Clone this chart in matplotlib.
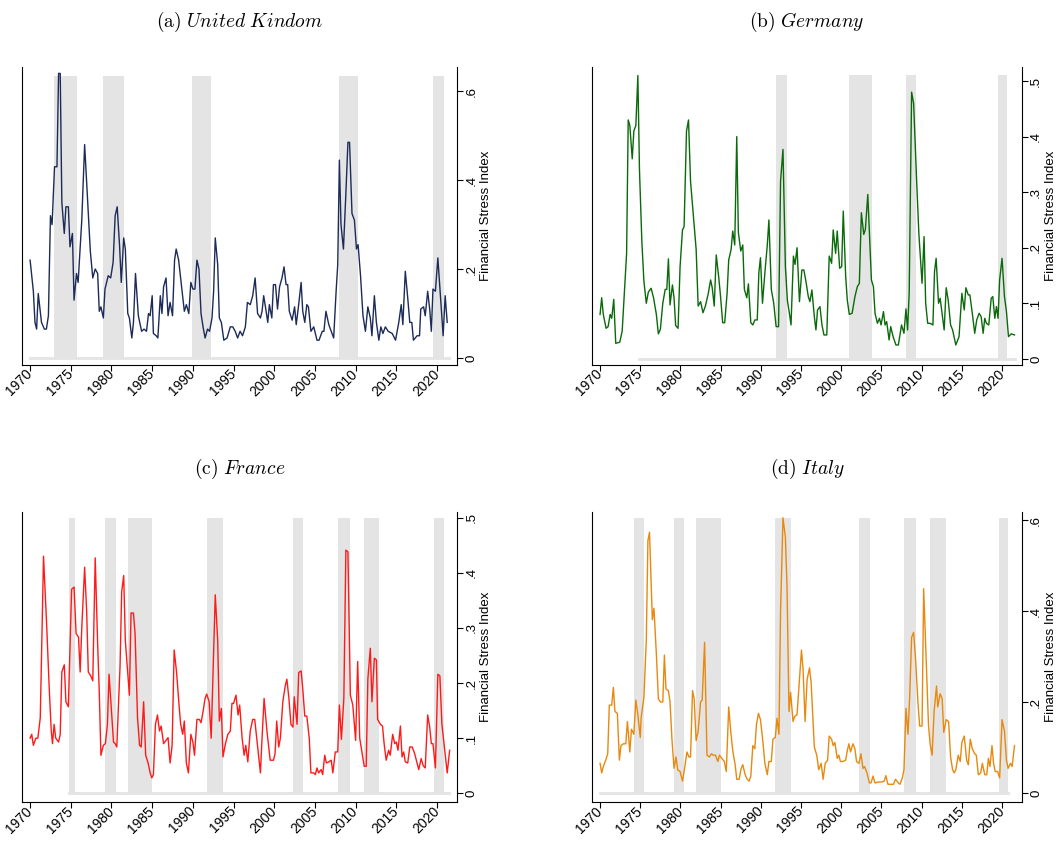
import matplotlib
matplotlib.use("Agg")
import matplotlib.pyplot as plt
from matplotlib.ticker import FuncFormatter

plt.rcParams['mathtext.fontset'] = 'cm'
plt.rcParams['font.family'] = ['Liberation Sans', 'DejaVu Sans']

# (year, financial stress index)
uk_pts = [
    (1970.0, .22), (1970.4, .15), (1970.6, .08), (1970.8, .065), (1971.0, .145), (1971.4, .08),
    (1971.75, .065), (1972.0, .065), (1972.25, .095), (1972.5, .32), (1972.7, .30), (1973.0, .43),
    (1973.3, .43), (1973.5, .64), (1973.7, .64), (1973.9, .35), (1974.2, .28), (1974.4, .34),
    (1974.7, .34), (1974.9, .25), (1975.2, .28), (1975.4, .13), (1975.7, .19), (1975.9, .17),
    (1976.35, .31), (1976.7, .48), (1977.05, .36), (1977.4, .24), (1977.7, .18), (1978.0, .20),
    (1978.3, .19), (1978.5, .105), (1978.7, .115), (1979.0, .09), (1979.2, .155), (1979.6, .185),
    (1979.9, .18), (1980.2, .215), (1980.45, .32), (1980.7, .34), (1981.0, .25), (1981.2, .17),
    (1981.5, .27), (1981.7, .245), (1982.0, .10), (1982.2, .09), (1982.5, .045), (1982.7, .08),
    (1982.95, .19), (1983.3, .095), (1983.7, .06), (1984.0, .065), (1984.3, .06), (1984.55, .10),
    (1984.75, .095), (1985.0, .14), (1985.15, .055), (1985.5, .05), (1985.7, .045), (1986.0, .14),
    (1986.2, .10), (1986.4, .16), (1986.7, .18), (1986.95, .095), (1987.2, .125), (1987.5, .095),
    (1987.75, .22), (1987.95, .245), (1988.25, .22), (1988.65, .155), (1988.95, .105), (1989.2, .12),
    (1989.5, .10), (1989.75, .17), (1990.0, .155), (1990.25, .155), (1990.5, .22), (1990.75, .20),
    (1991.0, .10), (1991.25, .07), (1991.5, .045), (1991.8, .065), (1992.05, .06), (1992.35, .09),
    (1992.55, .15), (1992.75, .27), (1993.05, .21), (1993.25, .09), (1993.5, .08), (1993.8, .04),
    (1994.2, .045), (1994.6, .07), (1994.9, .07), (1995.2, .06), (1995.5, .045), (1995.8, .06),
    (1996.1, .05), (1996.45, .07), (1996.7, .125), (1997.05, .12), (1997.35, .14), (1997.65, .18),
    (1997.95, .10), (1998.3, .09), (1998.5, .105), (1998.7, .14), (1999.0, .105), (1999.2, .08),
    (1999.4, .12), (1999.7, .09), (1999.9, .165), (2000.15, .165), (2000.4, .11), (2000.65, .16),
    (2000.95, .18), (2001.2, .205), (2001.45, .165), (2001.65, .165), (2001.85, .105), (2002.2, .085),
    (2002.5, .115), (2002.7, .075), (2003.0, .12), (2003.3, .17), (2003.5, .105), (2003.75, .08),
    (2004.0, .12), (2004.2, .115), (2004.5, .06), (2004.85, .07), (2005.25, .04), (2005.5, .04),
    (2005.9, .06), (2006.1, .06), (2006.35, .105), (2006.7, .075), (2007.0, .06), (2007.3, .045),
    (2007.6, .15), (2007.8, .21), (2008.0, .445), (2008.2, .30), (2008.5, .245), (2008.8, .37),
    (2009.05, .485), (2009.25, .485), (2009.55, .325), (2009.85, .31), (2010.1, .245), (2010.3, .255),
    (2010.6, .185), (2010.9, .095), (2011.2, .06), (2011.5, .115), (2011.8, .09), (2012.0, .05),
    (2012.3, .14), (2012.55, .08), (2012.85, .04), (2013.1, .07), (2013.35, .055), (2013.65, .07),
    (2014.0, .06), (2014.5, .055), (2014.9, .04), (2015.3, .08), (2015.6, .12), (2015.8, .075),
    (2016.1, .195), (2016.4, .135), (2016.65, .08), (2016.9, .08), (2017.1, .04), (2017.55, .05),
    (2017.85, .05), (2018.0, .11), (2018.35, .115), (2018.55, .095), (2018.85, .15), (2019.1, .11),
    (2019.3, .06), (2019.5, .155), (2019.8, .15), (2020.1, .225), (2020.3, .17), (2020.75, .05),
    (2021.0, .14), (2021.25, .08),
]

de_pts = [
    (1970.0, .08), (1970.2, .11), (1970.4, .08), (1970.75, .055), (1971.0, .058), (1971.25, .08),
    (1971.45, .073), (1971.7, .107), (1971.95, .028), (1972.45, .03), (1972.75, .05), (1973.05, .125),
    (1973.3, .19), (1973.5, .43), (1973.7, .42), (1974.0, .36), (1974.2, .41), (1974.45, .42),
    (1974.7, .51), (1974.9, .34), (1975.2, .21), (1975.45, .14), (1975.75, .10), (1976.0, .12),
    (1976.35, .127), (1976.65, .11), (1977.0, .08), (1977.25, .045), (1977.5, .053), (1977.8, .10),
    (1978.1, .125), (1978.3, .125), (1978.5, .18), (1978.7, .097), (1979.0, .133), (1979.2, .11),
    (1979.4, .06), (1979.7, .055), (1979.95, .166), (1980.25, .232), (1980.45, .238), (1980.75, .41),
    (1981.0, .43), (1981.25, .32), (1981.7, .24), (1981.95, .197), (1982.2, .095), (1982.5, .103),
    (1982.8, .083), (1983.1, .095), (1983.45, .117), (1983.75, .142), (1983.95, .128), (1984.2, .095),
    (1984.45, .187), (1984.75, .148), (1984.95, .118), (1985.25, .065), (1985.5, .065), (1985.8, .118),
    (1986.0, .178), (1986.3, .197), (1986.5, .23), (1986.75, .205), (1987.0, .40), (1987.2, .228),
    (1987.5, .194), (1987.75, .205), (1987.95, .125), (1988.25, .11), (1988.45, .135), (1988.75, .065),
    (1989.0, .061), (1989.25, .07), (1989.55, .07), (1989.75, .155), (1989.95, .182), (1990.2, .10),
    (1990.5, .155), (1990.8, .205), (1991.0, .25), (1991.3, .125), (1991.6, .10), (1991.9, .058),
    (1992.2, .058), (1992.45, .32), (1992.75, .377), (1993.05, .166), (1993.3, .105), (1993.55, .082),
    (1993.75, .061), (1994.05, .185), (1994.25, .17), (1994.5, .20), (1994.8, .103), (1995.1, .16),
    (1995.35, .16), (1995.6, .14), (1995.9, .112), (1996.1, .103), (1996.35, .124), (1996.65, .076),
    (1996.85, .052), (1997.05, .088), (1997.35, .094), (1997.6, .061), (1997.85, .043), (1998.2, .043),
    (1998.5, .185), (1998.8, .172), (1999.0, .232), (1999.3, .19), (1999.5, .23), (1999.8, .163),
    (2000.05, .166), (2000.25, .266), (2000.55, .148), (2000.75, .106), (2001.0, .08), (2001.35, .082),
    (2001.7, .112), (2002.0, .13), (2002.25, .136), (2002.5, .263), (2002.8, .224), (2003.0, .233),
    (2003.3, .296), (2003.5, .226), (2003.75, .142), (2004.0, .13), (2004.2, .082), (2004.5, .064),
    (2004.75, .073), (2004.95, .061), (2005.25, .085), (2005.45, .061), (2005.65, .067), (2005.95, .034),
    (2006.15, .058), (2006.45, .04), (2006.8, .025), (2007.1, .025), (2007.5, .061), (2007.8, .046),
    (2008.05, .09), (2008.25, .052), (2008.45, .118), (2008.75, .48), (2009.0, .46), (2009.35, .33),
    (2009.65, .226), (2010.05, .136), (2010.3, .22), (2010.5, .10), (2010.75, .064), (2011.05, .064),
    (2011.4, .061), (2011.6, .157), (2011.8, .181), (2012.1, .10), (2012.3, .109), (2012.55, .08),
    (2012.8, .052), (2013.05, .128), (2013.3, .106), (2013.6, .061), (2013.85, .052), (2014.25, .025),
    (2014.65, .04), (2015.0, .118), (2015.3, .088), (2015.5, .128), (2015.8, .115), (2016.0, .115),
    (2016.3, .082), (2016.6, .046), (2016.85, .07), (2017.15, .082), (2017.4, .076), (2017.65, .046),
    (2017.85, .073), (2018.05, .064), (2018.35, .061), (2018.65, .109), (2018.85, .112), (2019.1, .073),
    (2019.3, .094), (2019.5, .073), (2019.7, .142), (2020.0, .181), (2020.3, .112), (2020.55, .085),
    (2020.8, .04), (2021.15, .045), (2021.55, .043),
]

fr_pts = [
    (1970.0, .10), (1970.2, .107), (1970.4, .087), (1970.7, .10), (1970.95, .10), (1971.25, .137),
    (1971.65, .43), (1972.05, .30), (1972.35, .19), (1972.6, .113), (1972.75, .09), (1972.95, .125),
    (1973.15, .10), (1973.5, .093), (1973.7, .107), (1973.9, .22), (1974.2, .233), (1974.4, .166),
    (1974.7, .157), (1974.9, .26), (1975.1, .37), (1975.4, .374), (1975.65, .29), (1975.95, .283),
    (1976.15, .22), (1976.35, .30), (1976.7, .41), (1976.95, .33), (1977.15, .22), (1977.45, .213),
    (1977.7, .204), (1978.0, .427), (1978.3, .27), (1978.5, .183), (1978.7, .069), (1979.0, .087),
    (1979.25, .09), (1979.5, .125), (1979.7, .216), (1979.95, .16), (1980.25, .093), (1980.45, .09),
    (1980.65, .084), (1981.05, .23), (1981.25, .365), (1981.5, .395), (1981.7, .277), (1982.0, .219),
    (1982.2, .178), (1982.4, .327), (1982.7, .327), (1982.9, .289), (1983.2, .137), (1983.45, .087),
    (1983.65, .084), (1983.95, .166), (1984.2, .069), (1984.5, .055), (1984.75, .037), (1984.95, .028),
    (1985.15, .034), (1985.4, .125), (1985.65, .142), (1985.9, .113), (1986.1, .122), (1986.4, .09),
    (1986.7, .096), (1986.95, .101), (1987.2, .055), (1987.45, .087), (1987.7, .26), (1988.0, .219),
    (1988.3, .16), (1988.5, .125), (1988.75, .107), (1988.95, .131), (1989.2, .055), (1989.45, .037),
    (1989.75, .107), (1990.0, .093), (1990.2, .069), (1990.5, .134), (1990.8, .134), (1991.0, .128),
    (1991.25, .148), (1991.5, .172), (1991.7, .18), (1992.0, .166), (1992.25, .10), (1992.75, .36),
    (1993.05, .277), (1993.25, .131), (1993.5, .154), (1993.7, .066), (1994.0, .09), (1994.3, .107),
    (1994.6, .113), (1994.8, .163), (1995.0, .163), (1995.3, .178), (1995.55, .142), (1995.75, .16),
    (1996.05, .10), (1996.3, .069), (1996.5, .087), (1996.75, .057), (1997.05, .113), (1997.35, .134),
    (1997.6, .134), (1997.85, .10), (1998.3, .037), (1998.5, .10), (1998.75, .172), (1999.1, .113),
    (1999.5, .06), (1999.9, .06), (2000.1, .072), (2000.3, .131), (2000.55, .084), (2000.75, .10),
    (2001.05, .166), (2001.35, .195), (2001.55, .207), (2001.8, .172), (2002.05, .125), (2002.3, .12),
    (2002.45, .175), (2002.8, .125), (2003.0, .219), (2003.3, .222), (2003.5, .19), (2003.75, .14),
    (2004.0, .14), (2004.3, .10), (2004.5, .037), (2004.85, .037), (2005.05, .034), (2005.25, .046),
    (2005.45, .037), (2005.75, .043), (2005.95, .034), (2006.2, .069), (2006.4, .055), (2006.7, .057),
    (2007.0, .06), (2007.2, .037), (2007.5, .075), (2007.8, .075), (2008.0, .16), (2008.25, .098),
    (2008.55, .172), (2008.8, .441), (2009.05, .438), (2009.35, .178), (2009.65, .16), (2010.0, .096),
    (2010.25, .239), (2010.5, .10), (2010.8, .072), (2011.05, .049), (2011.3, .049), (2011.5, .207),
    (2011.8, .263), (2012.0, .166), (2012.3, .245), (2012.55, .242), (2012.7, .134), (2013.05, .125),
    (2013.3, .122), (2013.5, .09), (2013.75, .06), (2014.05, .078), (2014.25, .069), (2014.55, .107),
    (2014.8, .09), (2015.0, .093), (2015.2, .078), (2015.5, .122), (2015.7, .066), (2015.9, .075),
    (2016.1, .057), (2016.4, .055), (2016.65, .084), (2016.95, .084), (2017.25, .072), (2017.55, .055),
    (2017.75, .043), (2018.05, .063), (2018.3, .05), (2018.55, .046), (2018.85, .142), (2019.1, .12),
    (2019.3, .09), (2019.5, .09), (2019.8, .046), (2020.1, .216), (2020.35, .213), (2020.6, .125),
    (2020.95, .078), (2021.25, .037), (2021.55, .078),
]

it_pts = [
    (1970.0, .066), (1970.2, .045), (1970.4, .059), (1970.7, .073), (1970.95, .087), (1971.15, .194),
    (1971.45, .194), (1971.65, .233), (1971.85, .18), (1972.15, .176), (1972.4, .073), (1972.6, .105),
    (1972.9, .109), (1973.2, .109), (1973.4, .158), (1973.7, .091), (1973.9, .141), (1974.2, .13),
    (1974.45, .205), (1974.7, .173), (1975.0, .123), (1975.1, .165), (1975.45, .211), (1975.75, .336),
    (1975.95, .556), (1976.15, .574), (1976.5, .382), (1976.7, .407), (1977.0, .307), (1977.25, .208),
    (1977.5, .201), (1977.8, .201), (1978.0, .304), (1978.2, .229), (1978.5, .226), (1978.7, .201),
    (1978.95, .116), (1979.2, .055), (1979.45, .08), (1979.65, .052), (1979.95, .048), (1980.25, .027),
    (1980.55, .059), (1980.8, .091), (1981.05, .08), (1981.25, .08), (1981.5, .226), (1981.7, .208),
    (1981.95, .116), (1982.2, .137), (1982.5, .201), (1982.7, .205), (1983.0, .332), (1983.3, .084),
    (1983.6, .08), (1983.85, .087), (1984.05, .084), (1984.35, .084), (1984.65, .07), (1984.85, .084),
    (1985.15, .077), (1985.45, .07), (1985.7, .048), (1986.0, .19), (1986.25, .137), (1986.5, .094),
    (1986.8, .063), (1987.0, .031), (1987.3, .031), (1987.55, .055), (1987.75, .063), (1988.05, .041),
    (1988.3, .031), (1988.55, .027), (1988.75, .038), (1989.0, .105), (1989.25, .098), (1989.45, .151),
    (1989.7, .176), (1989.95, .162), (1990.2, .123), (1990.5, .066), (1990.8, .041), (1991.0, .07),
    (1991.3, .07), (1991.5, .119), (1991.8, .123), (1992.0, .165), (1992.25, .13), (1992.45, .40),
    (1992.75, .606), (1993.05, .563), (1993.25, .457), (1993.5, .18), (1993.7, .222), (1994.0, .158),
    (1994.2, .169), (1994.5, .173), (1994.75, .236), (1995.05, .315), (1995.25, .272), (1995.5, .158),
    (1995.75, .25), (1996.05, .276), (1996.25, .244), (1996.45, .173), (1996.65, .102), (1996.95, .084),
    (1997.2, .052), (1997.5, .066), (1997.75, .031), (1998.0, .066), (1998.3, .073), (1998.5, .126),
    (1998.8, .119), (1999.0, .105), (1999.2, .112), (1999.5, .077), (1999.7, .084), (1999.9, .07),
    (2000.2, .07), (2000.55, .073), (2000.75, .094), (2000.95, .109), (2001.15, .091), (2001.45, .109),
    (2001.7, .098), (2001.9, .07), (2002.2, .066), (2002.45, .087), (2002.7, .055), (2002.9, .059),
    (2003.2, .045), (2003.5, .023), (2003.7, .023), (2003.95, .038), (2004.2, .023), (2004.65, .025),
    (2005.05, .025), (2005.35, .027), (2005.55, .039), (2005.8, .02), (2006.05, .02), (2006.5, .02),
    (2006.75, .031), (2007.1, .023), (2007.3, .02), (2007.6, .034), (2007.8, .052), (2008.05, .187),
    (2008.3, .13), (2008.5, .208), (2008.75, .343), (2009.0, .354), (2009.25, .293), (2009.55, .197),
    (2009.75, .148), (2010.05, .148), (2010.25, .45), (2010.6, .279), (2010.85, .151), (2011.05, .109),
    (2011.3, .084), (2011.55, .18), (2011.85, .236), (2012.0, .19), (2012.3, .219), (2012.55, .208),
    (2012.75, .134), (2013.05, .162), (2013.35, .158), (2013.6, .08), (2013.85, .052), (2014.05, .045),
    (2014.25, .052), (2014.55, .084), (2014.8, .07), (2015.0, .112), (2015.3, .126), (2015.6, .073),
    (2015.8, .063), (2016.05, .119), (2016.3, .098), (2016.6, .087), (2016.8, .084), (2017.05, .041),
    (2017.35, .045), (2017.55, .066), (2017.85, .041), (2018.1, .041), (2018.3, .077), (2018.5, .059),
    (2018.75, .105), (2018.95, .066), (2019.15, .048), (2019.45, .048), (2019.7, .034), (2020.0, .162),
    (2020.3, .137), (2020.55, .073), (2020.75, .055), (2021.05, .066), (2021.25, .059), (2021.55, .105),
]

# recession periods (start, end)
uk_rec = [(1972.95, 1975.75), (1978.9, 1981.5), (1989.95, 1992.25), (2008.0, 2010.3), (2019.5, 2020.8)]
de_rec = [(1991.93, 1993.28), (2001.0, 2003.77), (2008.0, 2009.34), (2019.5, 2020.6)]
fr_rec = [(1974.84, 1975.5), (1979.2, 1980.5), (1981.97, 1985.0), (1991.7, 1993.7), (2002.25, 2003.5),
          (2007.8, 2009.3), (2011.0, 2012.9), (2019.6, 2020.8)]
it_rec = [(1974.2, 1975.5), (1979.2, 1980.5), (1981.9, 1985.0), (1991.7, 1993.8), (2002.25, 2003.57),
          (2007.8, 2009.35), (2011.0, 2013.0), (2019.6, 2020.8)]

panels = [
    ("(a)", "United\\ Kindom", uk_pts, uk_rec, 1970.0, 2021.5, "#1c2b58", [0, .2, .4, .6], (-0.0157, 0.654), 0.635, [0.0207, 0.5686, 0.41, 0.352]),
    ("(b)", "Germany", de_pts, de_rec, 1974.9, 2021.6, "#0a6a0a", [0, .1, .2, .3, .4, .5], (-0.011, 0.525), 0.511, [0.558, 0.5686, 0.405, 0.352]),
    ("(c)", "France", fr_pts, fr_rec, 1974.84, 2021.5, "#ff1a1a", [0, .1, .2, .3, .4, .5], (-0.0158, 0.5105), 0.50, [0.0207, 0.052, 0.41, 0.343]),
    ("(d)", "Italy", it_pts, it_rec, 1970.0, 2020.8, "#e8890e", [0, .2, .4, .6], (-0.019, 0.619), 0.606, [0.558, 0.052, 0.405, 0.343]),
]

fmt = FuncFormatter(lambda v, p: "0" if abs(v) < 1e-9 else ("%.1f" % v).lstrip("0"))

fig = plt.figure(figsize=(10.61, 8.46), dpi=100)
for tag, name, pts, rec, base0, base1, color, yt, ylim, rtop, rect in panels:
    ax = fig.add_axes(rect)
    for s, e in rec:
        ax.fill_between([s, e], 0, rtop, color="#e4e4e4", linewidth=0, zorder=1)
    ax.plot([base0, base1], [0, 0], color="#e4e4e4", lw=2, zorder=1)
    xs = [p[0] for p in pts]
    ys = [p[1] for p in pts]
    ax.plot(xs, ys, color=color, lw=1.0, zorder=3)
    ax.set_xlim(1969.0, 2022.45)
    ax.set_ylim(*ylim)
    ax.set_xticks(range(1970, 2021, 5))
    ax.tick_params(axis="x", labelsize=10, rotation=45, direction="out", length=4, pad=1)
    for lb in ax.get_xticklabels():
        lb.set_ha("right")
        lb.set_va("center")
        lb.set_rotation_mode("anchor")
    ax.yaxis.tick_right()
    ax.yaxis.set_label_position("right")
    ax.set_yticks(yt)
    ax.yaxis.set_major_formatter(fmt)
    ax.tick_params(axis="y", labelsize=9.5, labelrotation=90, length=4, pad=2)
    for lb in ax.get_yticklabels():
        lb.set_va("center")
    ax.set_ylabel("Financial Stress Index", fontsize=9.5, labelpad=2)
    ax.spines["top"].set_visible(False)
    cx = rect[0] + rect[2] / 2
    ty = rect[1] + rect[3] + 0.053 if rect[1] > 0.5 else rect[1] + rect[3] + 0.051
    fig.text(cx, ty, r"$\mathrm{%s}\ \mathit{%s}$" % (tag, name), ha="center", va="center", fontsize=14)

fig.savefig("out.png", dpi=100)
